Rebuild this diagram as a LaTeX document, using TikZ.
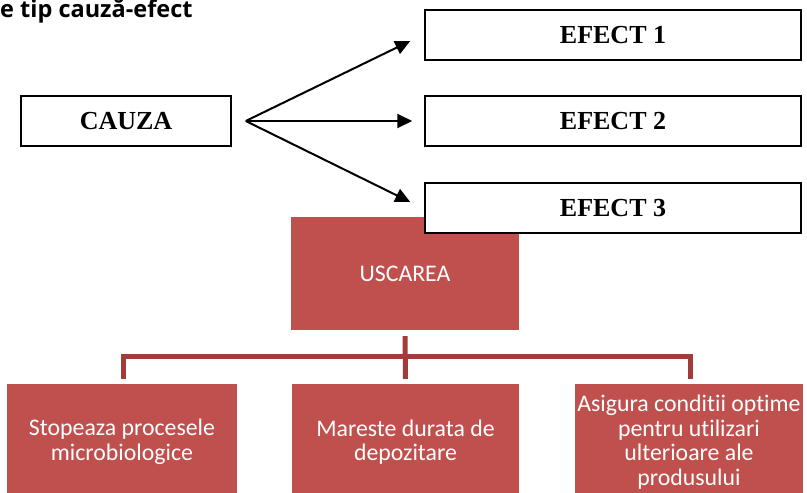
\documentclass[tikz,border=0pt]{standalone}
\usepackage{fontspec}
\setmainfont{Liberation Serif}
\newfontfamily\calfont{Carlito}[Ligatures=NoCommon]
\newfontfamily\ttlfont{Open Sans}
\usetikzlibrary{arrows.meta,calc}
\definecolor{boxred}{HTML}{C0504D}
\definecolor{linered}{RGB}{160,60,58}
\tikzset{
  wbox/.style={draw=black,line width=1.5pt,fill=white,minimum height=50pt,inner sep=0pt,
    font=\fontsize{26}{30}\selectfont\bfseries},
  rbox/.style={fill=boxred,text=white,inner sep=0pt,align=center,
    font=\calfont\fontsize{23.8}{24.5}\selectfont},
  arr/.style={line width=2pt,-{Triangle[length=15pt,width=14pt]}},
  conn/.style={draw=linered,line width=5pt,line cap=butt,line join=miter}
}
\begin{document}
\begin{tikzpicture}[x=1pt,y=-1pt]
\useasboundingbox (0,0) rectangle (807,493);
\clip (0,0) rectangle (807,493);
% title
\node[anchor=base west,inner sep=0pt,font=\ttlfont\bfseries\fontsize{23.5}{26}\selectfont] (title) at (0,17) {e tip cauză-efect};
% hierarchy
\node[rbox,minimum width=228pt,minimum height=113pt] (us) at (405,273.5) {USCAREA};
\node[rbox,minimum width=230pt,minimum height=116pt] (b1) at (122,442) {Stopeaza procesele\\microbiologice};
\node[rbox,minimum width=227pt,minimum height=116pt] (b2) at (405.5,442) {Mareste durata de\\depozitare};
\node[rbox,minimum width=228pt,minimum height=116pt] (b3) at (689,442) {Asigura conditii optime\\pentru utilizari\\ulterioare ale\\produsului};
\draw[conn] ($(us.south)+(0,6)$) -- ($(b2.north)+(0,-5)$);
\draw[conn] ($(b1.north)+(1,-5)$) -- ++(0,-22) -| ($(b3.north)+(1,-5)$);
% cause-effect boxes
\node[wbox,minimum width=210pt] (cauza) at (126,121) {CAUZA};
\node[wbox,minimum width=376pt] (e1) at (613,35) {EFECT 1};
\node[wbox,minimum width=376pt] (e2) at (613,121) {EFECT 2};
\node[wbox,minimum width=376pt] (e3) at (613,208) {EFECT 3};
\coordinate (o) at ($(cauza.east)+(14,0)$);
\draw[arr] (o) -- ($(e1.west)+(-14,6)$);
\draw[arr] (o) -- ($(e2.west)+(-12,0)$);
\draw[arr] (o) -- ($(e3.west)+(-14,-6)$);
\end{tikzpicture}
\end{document}
